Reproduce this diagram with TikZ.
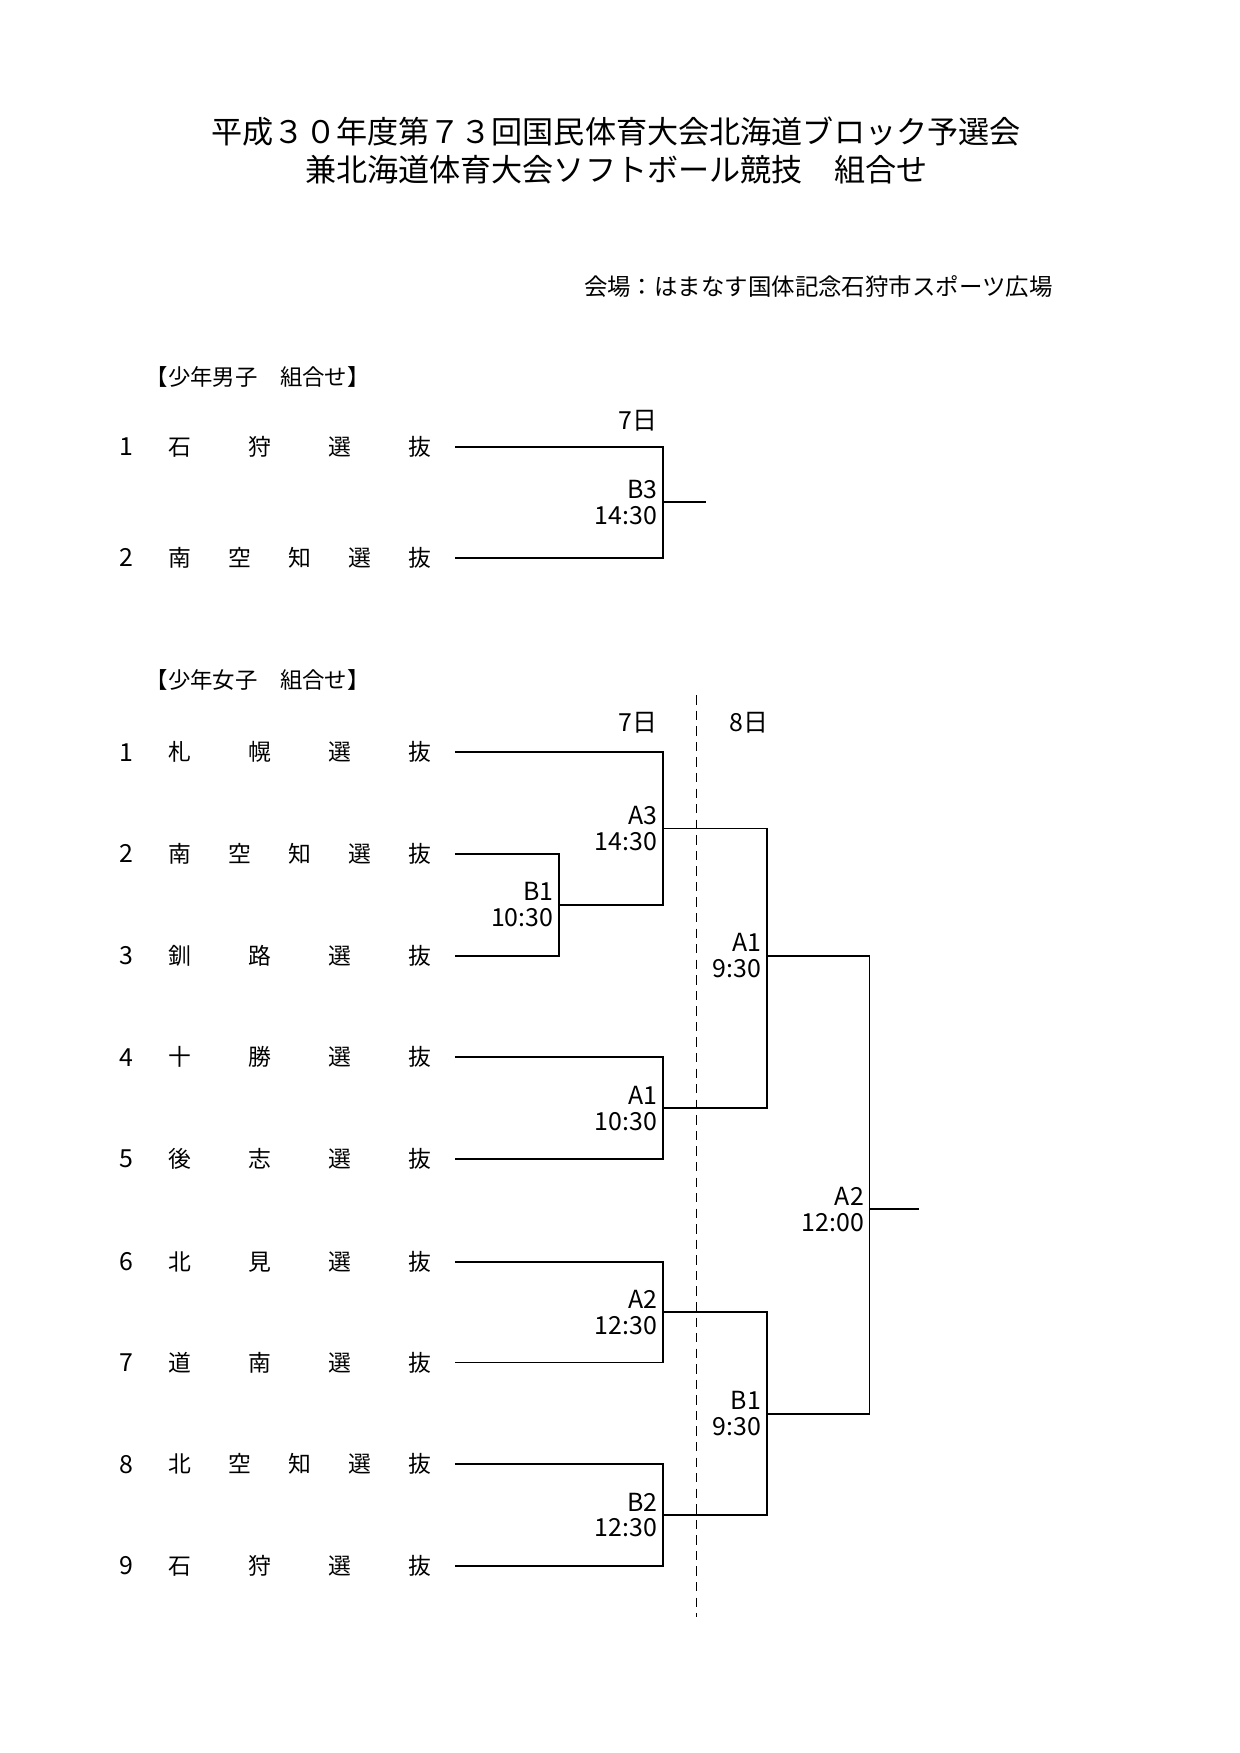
\documentclass[tikz,border=0pt]{standalone}
\usepackage{fontspec}
\setmainfont{Noto Sans CJK JP}
\usetikzlibrary{calc}
\newcommand{\sen}[1]{\makebox[4.44cm][s]{#1}}
\tikzset{
  waku/.style={black,line width=0.9pt},
  trenn/.style={black,line width=0.7pt,dash pattern=on 4.5pt off 3pt},
  titel/.style={inner sep=0pt,font=\fontsize{15}{18}\selectfont},
  ort/.style={anchor=east,inner sep=0pt,font=\fontsize{11.3}{13}\selectfont},
  gruppe/.style={anchor=west,inner sep=0pt,font=\fontsize{10.8}{12}\selectfont},
  nummer/.style={inner sep=0pt,font=\fontsize{12}{13}\selectfont},
  mannschaft/.style={anchor=west,inner sep=0pt,font=\fontsize{11}{13}\selectfont},
  tag/.style={inner sep=0pt,font=\fontsize{12}{13}\selectfont},
  spiel/.style={anchor=east,align=right,inner xsep=2.5pt,inner ysep=0pt,font=\fontsize{12}{12.5}\selectfont},
}
\begin{document}
\begin{tikzpicture}
  \useasboundingbox (0,0) rectangle (21,-29.7);
  \node[titel] (kopf1) at (10.44,-2.234) {平成３０年度第７３回国民体育大会北海道ブロック予選会};
  \node[titel] (kopf2) at (10.44,-2.878) {兼北海道体育大会ソフトボール競技　組合せ};
  \node[ort] (kaijo) at (17.838,-4.848) {会場：はまなす国体記念石狩市スポーツ広場};

  \node[gruppe] (danshi) at (2.462,-6.381) {【少年男子　組合せ】};
  \node[tag] (dtag7) at (10.812,-7.120) {7日};
  \node[nummer] (dn1) at (2.140,-7.574) {1};
  \node[nummer] (dn2) at (2.140,-9.449) {2};
  \node[mannschaft] (dm1) at (2.855,-7.574) {\sen{石\hfill 狩\hfill 選\hfill 抜}};
  \node[mannschaft] (dm2) at (2.855,-9.449) {\sen{南\hfill 空\hfill 知\hfill 選\hfill 抜}};
  \coordinate (ds1) at (7.707,-7.574);
  \coordinate (ds2) at (7.707,-9.449);
  \coordinate (db3) at (11.229,-8.512);
  \coordinate (dende) at (11.968,-8.512);
  \draw[waku] (ds1) -| (db3) |- (ds2);
  \draw[waku] (db3) -- (dende);
  \node[spiel] (db3l) at (db3) {B3\\14:30};

  \node[gruppe] (joshi) at (2.462,-11.513) {【少年女子　組合せ】};
  \node[tag] (jtag7) at (10.812,-12.252) {7日};
  \node[tag] (jtag8) at (12.687,-12.252) {8日};
  \coordinate (toben) at (11.797,-11.778);
  \coordinate (tunten) at (11.797,-27.400);
  \draw[trenn] (toben) -- (tunten);

  \node[nummer] (jn1) at (2.140,-12.744) {1};
  \node[nummer] (jn2) at (2.140,-14.467) {2};
  \node[nummer] (jn3) at (2.140,-16.190) {3};
  \node[nummer] (jn4) at (2.140,-17.913) {4};
  \node[nummer] (jn5) at (2.140,-19.637) {5};
  \node[nummer] (jn6) at (2.140,-21.379) {6};
  \node[nummer] (jn7) at (2.140,-23.083) {7};
  \node[nummer] (jn8) at (2.140,-24.806) {8};
  \node[nummer] (jn9) at (2.140,-26.529) {9};
  \node[mannschaft] (jm1) at (2.855,-12.744) {\sen{札\hfill 幌\hfill 選\hfill 抜}};
  \node[mannschaft] (jm2) at (2.855,-14.467) {\sen{南\hfill 空\hfill 知\hfill 選\hfill 抜}};
  \node[mannschaft] (jm3) at (2.855,-16.190) {\sen{釧\hfill 路\hfill 選\hfill 抜}};
  \node[mannschaft] (jm4) at (2.855,-17.913) {\sen{十\hfill 勝\hfill 選\hfill 抜}};
  \node[mannschaft] (jm5) at (2.855,-19.637) {\sen{後\hfill 志\hfill 選\hfill 抜}};
  \node[mannschaft] (jm6) at (2.855,-21.379) {\sen{北\hfill 見\hfill 選\hfill 抜}};
  \node[mannschaft] (jm7) at (2.855,-23.083) {\sen{道\hfill 南\hfill 選\hfill 抜}};
  \node[mannschaft] (jm8) at (2.855,-24.806) {\sen{北\hfill 空\hfill 知\hfill 選\hfill 抜}};
  \node[mannschaft] (jm9) at (2.855,-26.529) {\sen{石\hfill 狩\hfill 選\hfill 抜}};

  \coordinate (js1) at (7.707,-12.744);
  \coordinate (js2) at (7.707,-14.467);
  \coordinate (js3) at (7.707,-16.190);
  \coordinate (js4) at (7.707,-17.913);
  \coordinate (js5) at (7.707,-19.637);
  \coordinate (js6) at (7.707,-21.379);
  \coordinate (js7) at (7.707,-23.083);
  \coordinate (js8) at (7.707,-24.806);
  \coordinate (js9) at (7.707,-26.529);
  \coordinate (jb1) at (9.468,-15.329);
  \coordinate (ja3) at (11.229,-14.036);
  \coordinate (ja1) at (11.229,-18.775);
  \coordinate (ja2) at (11.229,-22.231);
  \coordinate (jb2) at (11.229,-25.668);
  \coordinate (jfa1) at (12.990,-16.190);
  \coordinate (jfb1) at (12.990,-23.950);
  \coordinate (jfa2) at (14.732,-20.489);
  \coordinate (jende) at (15.565,-20.489);

  \draw[waku] (js2) -| (jb1) |- (js3);
  \draw[waku] (js1) -| (ja3) |- (jb1);
  \draw[waku] (js4) -| (ja1) |- (js5);
  \draw[waku] (js6) -| (ja2) |- (js7);
  \draw[waku] (js8) -| (jb2) |- (js9);
  \draw[waku] (ja3) -| (jfa1) |- (ja1);
  \draw[waku] (ja2) -| (jfb1) |- (jb2);
  \draw[waku] (jfa1) -| (jfa2) |- (jfb1);
  \draw[waku] (jfa2) -- (jende);

  \node[spiel] (jb1l) at (jb1) {B1\\10:30};
  \node[spiel] (ja3l) at (ja3) {A3\\14:30};
  \node[spiel] (ja1l) at (ja1) {A1\\10:30};
  \node[spiel] (ja2l) at (ja2) {A2\\12:30};
  \node[spiel] (jb2l) at (jb2) {B2\\12:30};
  \node[spiel] (jfa1l) at (jfa1) {A1\\9:30};
  \node[spiel] (jfb1l) at (jfb1) {B1\\9:30};
  \node[spiel] (jfa2l) at (jfa2) {A2\\12:00};
\end{tikzpicture}
\end{document}
